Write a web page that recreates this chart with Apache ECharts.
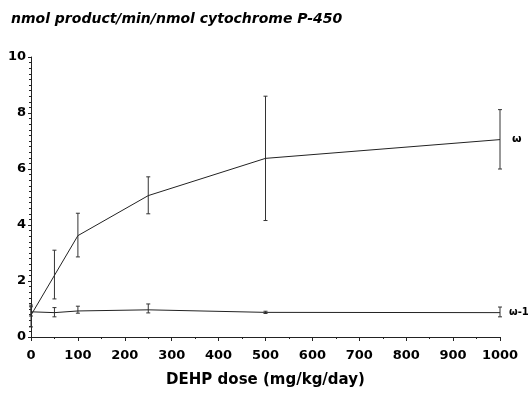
<!DOCTYPE html>
<html><head><meta charset="utf-8">
<script src="https://cdn.jsdelivr.net/npm/echarts@6/dist/echarts.min.js"></script>
<style>html,body{margin:0;padding:0;background:#fff}#c{width:530px;height:401px}</style>
</head><body><div id="c"></div>
<script>
const doses = [0, 50, 100, 250, 500, 1000];
const xTicks = [0, 100, 200, 300, 400, 500, 600, 700, 800, 900, 1000];
const yTicks = [0, 2, 4, 6, 8, 10];
const omegaMean = [0.78, 2.2, 3.62, 5.05, 6.38, 7.05];
const omegaLow  = [0.36, 1.36, 2.86, 4.4, 4.16, 6.0];
const omegaHigh = [1.14, 3.1, 4.42, 5.72, 8.6, 8.12];
const omega1Mean = [0.9, 0.87, 0.93, 0.97, 0.88, 0.87];
const omega1Low  = [0.75, 0.72, 0.85, 0.86, 0.84, 0.72];
const omega1High = [1.08, 1.05, 1.1, 1.18, 0.92, 1.07];
const seriesNames = ['ω', 'ω-1'];
const yTitle = 'nmol product/min/nmol cytochrome P-450';
const xTitle = 'DEHP dose (mg/kg/day)';

const chart = echarts.init(document.getElementById('c'));
const FONT = '"DejaVu Sans", "Liberation Sans", Arial, sans-serif';

function errData(low, high) { return doses.map((d, i) => [d, low[i], high[i]]); }
function errRender(params, api) {
  const x = api.value(0);
  const lo = api.coord([x, api.value(1)]);
  const hi = api.coord([x, api.value(2)]);
  const w = 2;
  const st = { stroke: '#333', lineWidth: 1 };
  return { type: 'group', children: [
    { type: 'line', shape: { x1: lo[0], y1: lo[1], x2: hi[0], y2: hi[1] }, style: st },
    { type: 'line', shape: { x1: hi[0]-w, y1: hi[1], x2: hi[0]+w, y2: hi[1] }, style: st },
    { type: 'line', shape: { x1: lo[0]-w, y1: lo[1], x2: lo[0]+w, y2: lo[1] }, style: st }
  ]};
}

chart.setOption({
  animation: false,
  title: { text: yTitle, left: 6, top: 7,
    textStyle: { fontFamily: FONT, fontSize: 14, fontWeight: 'bold', fontStyle: 'italic', color: '#000' } },
  grid: { left: 31, right: 30, top: 57, bottom: 64 },
  xAxis: {
    type: 'value', min: 0, max: 1000, interval: 100, offset: 3,
    name: xTitle, nameLocation: 'middle', nameGap: 33,
    nameTextStyle: { fontFamily: FONT, fontSize: 15, fontWeight: 'bold', color: '#000' },
    axisLine: { show: true, lineStyle: { color: '#222', width: 1 } },
    axisTick: { show: true, length: 4, lineStyle: { color: '#222' } },
    minorTick: { show: true, splitNumber: 2, length: 2, lineStyle: { color: '#222' } },
    axisLabel: { margin: 9, fontFamily: FONT, fontSize: 13, fontWeight: 'bold', color: '#000',
      formatter: v => xTicks.includes(v) ? String(v) : '' },
    splitLine: { show: false }
  },
  yAxis: {
    type: 'value', min: 0, max: 10, interval: 2,
    axisLine: { show: true, lineStyle: { color: '#222', width: 1 } },
    axisTick: { show: true, length: 3, lineStyle: { color: '#222' } },
    minorTick: { show: true, splitNumber: 10, length: 2, lineStyle: { color: '#222' } },
    axisLabel: { margin: 5, fontFamily: FONT, fontSize: 13, fontWeight: 'bold', color: '#000',
      formatter: v => yTicks.includes(v) ? String(v) : '' },
    splitLine: { show: false }
  },
  series: [
    { name: seriesNames[0], type: 'line', data: doses.map((d, i) => [d, omegaMean[i]]),
      symbol: 'none', lineStyle: { color: '#222', width: 1 },
      endLabel: { show: true, formatter: seriesNames[0], distance: 12,
        fontFamily: FONT, fontSize: 11, fontWeight: 'bold', color: '#000' } },
    { name: seriesNames[1], type: 'line', data: doses.map((d, i) => [d, omega1Mean[i]]),
      symbol: 'none', lineStyle: { color: '#222', width: 1 },
      endLabel: { show: true, formatter: seriesNames[1], distance: 9,
        fontFamily: FONT, fontSize: 10, fontWeight: 'bold', color: '#000' } },
    { type: 'custom', data: errData(omegaLow, omegaHigh), renderItem: errRender, z: 3 },
    { type: 'custom', data: errData(omega1Low, omega1High), renderItem: errRender, z: 3 }
  ]
});
</script></body></html>
